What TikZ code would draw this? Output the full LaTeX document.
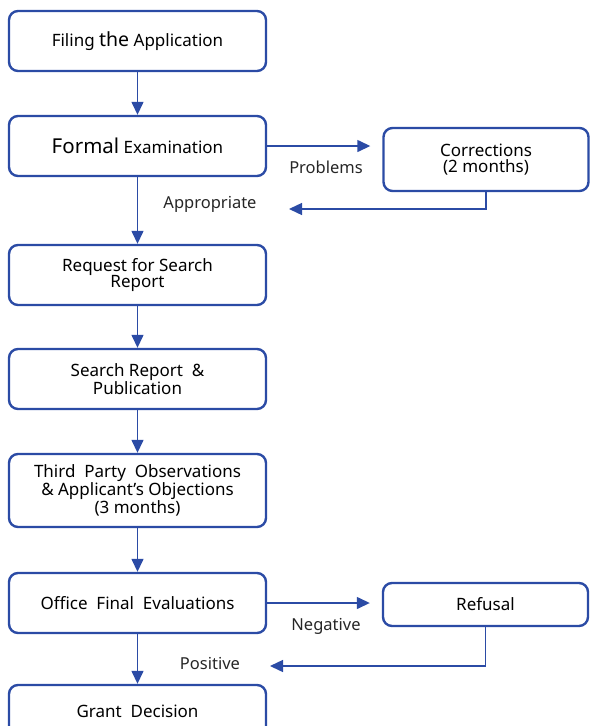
\documentclass[tikz,border=0pt]{standalone}
\usepackage{fontspec}
\setmainfont{Noto Sans}
\usetikzlibrary{arrows.meta}
\definecolor{flowblue}{RGB}{43,75,165}
\begin{document}
\begin{tikzpicture}[
    x=1pt, y=-1pt,
    >={Triangle[length=13pt,width=12pt]},
    box/.style={draw=flowblue, line width=2.4pt, rounded corners=9pt,
      minimum width=257pt, minimum height=60pt, align=center,
      font=\fontsize{17}{16.5}\selectfont},
    sidebox/.style={box, minimum width=205pt},
    flow/.style={draw=flowblue, line width=1.4pt, ->},
    lbl/.style={font=\fontsize{16.5}{16.5}\selectfont, text=black!85}
  ]
  \useasboundingbox (0,0) rectangle (590,726);
  % main column
  \node[box] (file) at (137.5,41) {Filing {\fontsize{19.5}{19.5}\selectfont the} Application};
  \node[box] (formal) at (137.5,146) {{\fontsize{20.5}{20.5}\selectfont Formal} Examination};
  \node[box] (req) at (137.5,275) {Request for Search\\Report};
  \node[box] (search) at (137.5,379) {Search Report~~\&\\Publication};
  \node[box, minimum height=73pt] (third) at (137.5,490.5)
    {Third~ Party~ Observations\\\& Applicant's Objections\\(3 months)};
  \node[box] (office) at (137.5,603) {Office~ Final~ Evaluations};
  \node[box, minimum height=52pt] (grant) at (137.5,711) {Grant~ Decision};
  % side branches
  \node[sidebox, minimum height=63pt] (corr) at (486,159.5) {Corrections\\(2 months)};
  \node[sidebox, minimum height=43pt] (refuse) at (485.5,604.5) {Refusal};
  \coordinate (back1) at (289,209);
  \coordinate (back2) at (270,666);
  % connectors
  \draw[flow] (file) -- (formal);
  \draw[flow] (formal) -- (req);
  \draw[flow] (req) -- (search);
  \draw[flow] (search) -- (third);
  \draw[flow] (third) -- (office);
  \draw[flow] (office) -- (grant);
  \draw[flow, shorten >=12pt] (formal.east) -- (formal.east -| corr.west);
  \draw[flow] (corr.south) |- (back1);
  \draw[flow, shorten >=12pt] (office.east) -- (office.east -| refuse.west);
  \draw[flow] (refuse.south) |- (back2);
  % branch labels
  \node[lbl] (problems) at (326,167) {Problems};
  \node[lbl] (approp) at (210,204) {Appropriate};
  \node[lbl] (negative) at (326,626) {Negative};
  \node[lbl] (positive) at (210,663) {Positive};
\end{tikzpicture}
\end{document}
